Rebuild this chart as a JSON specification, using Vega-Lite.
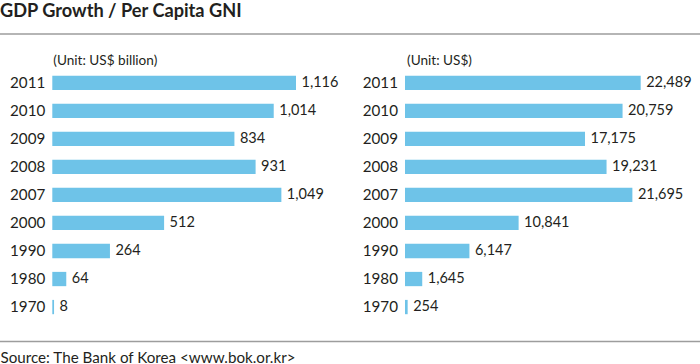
{
  "$schema": "https://vega.github.io/schema/vega-lite/v6.json",
  "width": 700,
  "height": 307.5,
  "autosize": "none",
  "padding": {"top": 34, "left": 0, "right": 0, "bottom": 22.5},
  "background": "white",
  "config": {
    "view": {"stroke": null},
    "font": "Lato",
    "text": {"font": "Lato", "color": "#231f20", "fontSize": 14.5}
  },
  "title": {
    "text": "GDP Growth / Per Capita GNI",
    "anchor": "start",
    "frame": "group",
    "font": "Lato",
    "fontSize": 18.2,
    "fontWeight": "bold",
    "color": "#231f20",
    "baseline": "alphabetic",
    "offset": -1.5,
    "dx": 0
  },
  "data": {
    "values": [
      {"year": "2011", "gdp": 1116, "gni": 22489},
      {"year": "2010", "gdp": 1014, "gni": 20759},
      {"year": "2009", "gdp": 834, "gni": 17175},
      {"year": "2008", "gdp": 931, "gni": 19231},
      {"year": "2007", "gdp": 1049, "gni": 21695},
      {"year": "2000", "gdp": 512, "gni": 10841},
      {"year": "1990", "gdp": 264, "gni": 6147},
      {"year": "1980", "gdp": 64, "gni": 1645},
      {"year": "1970", "gdp": 8, "gni": 254}
    ]
  },
  "encoding": {
    "y": {
      "field": "year",
      "type": "nominal",
      "axis": null,
      "scale": {
        "domain": ["2011", "2010", "2009", "2008", "2007", "2000", "1990", "1980", "1970"],
        "range": [41.65, 280.2],
        "paddingInner": 0.49,
        "paddingOuter": 0
      }
    }
  },
  "layer": [
    {
      "encoding": {
        "x": {
          "field": "gdp",
          "type": "quantitative",
          "scale": {"range": [52.3, 296], "nice": false, "zero": true},
          "axis": {
            "orient": "bottom",
            "domain": false,
            "ticks": false,
            "labels": false,
            "grid": false,
            "title": "Source: The Bank of Korea <www.bok.or.kr>",
            "titleX": 0,
            "titleY": 20.5,
            "titleAlign": "left",
            "titleAnchor": null,
            "titleBaseline": "alphabetic",
            "titleFont": "Lato",
            "titleFontSize": 15.2,
            "titleFontWeight": "normal",
            "titleColor": "#231f20"
          }
        }
      },
      "layer": [
        {"mark": {"type": "bar", "color": "#6ec3e8"}},
        {
          "mark": {"type": "text", "align": "left", "baseline": "middle", "dx": 5.5},
          "encoding": {"text": {"field": "gdp", "type": "quantitative", "format": ","}}
        },
        {
          "mark": {"type": "text", "align": "right", "baseline": "middle", "dx": -7, "fontSize": 15.2},
          "encoding": {
            "x": {"datum": 0, "type": "quantitative"},
            "text": {"field": "year", "type": "nominal"}
          }
        },
        {
          "transform": [{"filter": "datum.year == '2011'"}],
          "mark": {"type": "text", "align": "left", "baseline": "alphabetic", "dx": 1, "dy": -18, "fontSize": 13.6},
          "encoding": {
            "x": {"datum": 0, "type": "quantitative"},
            "text": {"value": "(Unit: US$ billion)"}
          }
        }
      ]
    },
    {
      "encoding": {
        "x": {
          "field": "gni",
          "type": "quantitative",
          "scale": {"range": [405, 640.7], "nice": false, "zero": true},
          "axis": null
        }
      },
      "layer": [
        {"mark": {"type": "bar", "color": "#6ec3e8"}},
        {
          "mark": {"type": "text", "align": "left", "baseline": "middle", "dx": 5.5},
          "encoding": {"text": {"field": "gni", "type": "quantitative", "format": ","}}
        },
        {
          "mark": {"type": "text", "align": "right", "baseline": "middle", "dx": -7, "fontSize": 15.2},
          "encoding": {
            "x": {"datum": 0, "type": "quantitative"},
            "text": {"field": "year", "type": "nominal"}
          }
        },
        {
          "transform": [{"filter": "datum.year == '2011'"}],
          "mark": {"type": "text", "align": "left", "baseline": "alphabetic", "dx": 2, "dy": -18, "fontSize": 13.6},
          "encoding": {
            "x": {"datum": 0, "type": "quantitative"},
            "text": {"value": "(Unit: US$)"}
          }
        }
      ]
    },
    {
      "data": {"values": [{"line": "top"}]},
      "mark": {"type": "rule", "color": "#9d9d9d", "strokeWidth": 1.5},
      "encoding": {"y": {"value": 0}}
    },
    {
      "data": {"values": [{"line": "bottom"}]},
      "mark": {"type": "rule", "color": "#9d9d9d", "strokeWidth": 1.5},
      "encoding": {"y": {"value": "height"}}
    }
  ],
  "resolve": {"scale": {"x": "independent"}}
}
